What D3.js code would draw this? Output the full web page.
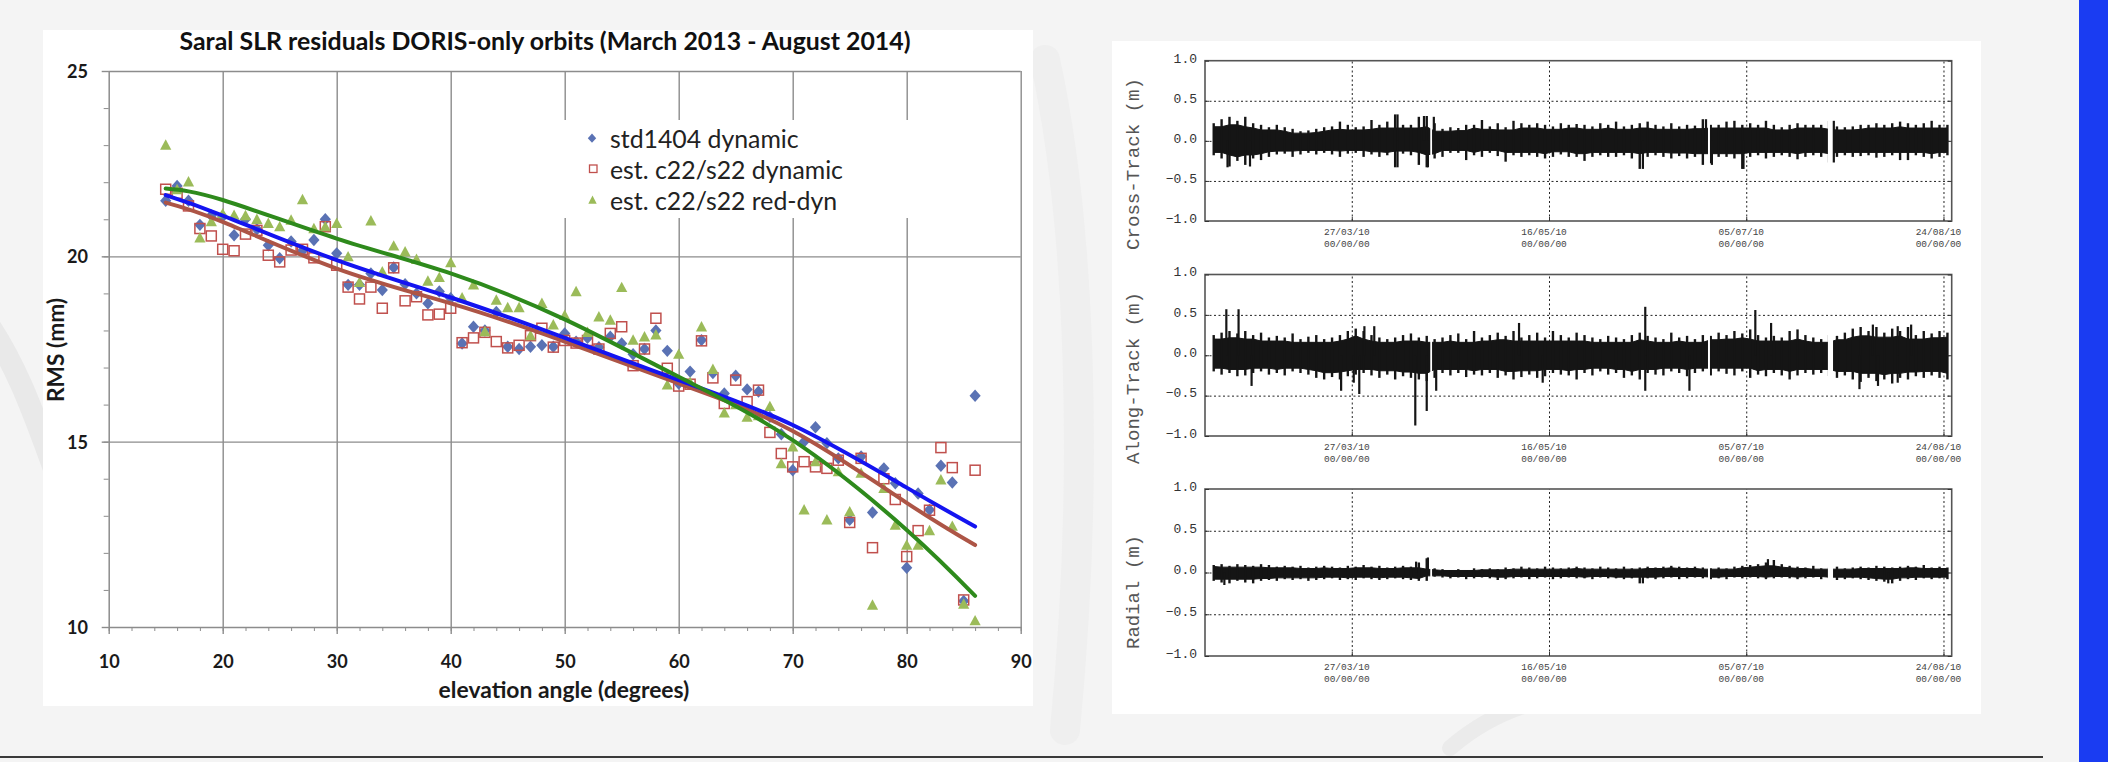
<!DOCTYPE html>
<html>
<head>
<meta charset="utf-8">
<script src="https://cdn.jsdelivr.net/npm/d3@7"></script>
<style>
  html, body { margin: 0; padding: 0; background: #f4f4f4; }
  svg { display: block; }
</style>
</head>
<body>
<svg id="slide" width="2108" height="762"></svg>
<script>
// ===================== DATA: SLR residuals vs elevation =====================

const elevation = [15, 16, 17, 18, 19, 20, 21, 22, 23, 24, 25, 26, 27, 28, 29, 30, 31, 32, 33, 34,
  35, 36, 37, 38, 39, 40, 41, 42, 43, 44, 45, 46, 47, 48, 49, 50, 51, 52, 53, 54,
  55, 56, 57, 58, 59, 60, 61, 62, 63, 64, 65, 66, 67, 68, 69, 70, 71, 72, 73, 74,
  75, 76, 77, 78, 79, 80, 81, 82, 83, 84, 85, 86];

const rmsStd1404 = [21.5, 21.9, 21.5, 20.85, 21.1, 21.07, 20.57, 21.0, 20.73, 20.3, 19.95, 20.4, 20.15, 20.44, 21.0, 20.08, 19.23, 19.23, 19.54, 19.09,
  19.7, 19.25, 19.0, 18.73, 19.05, 18.87, 17.65, 18.1, 18.0, 18.5, 17.56, 17.5, 17.56, 17.6, 17.56, 17.92, 17.7, 17.8, 17.55, 17.83,
  17.65, 17.36, 17.5, 18.0, 17.45, 16.57, 16.89, 17.74, 16.85, 16.3, 16.78, 16.41, 16.35, 15.67, 15.2, 14.23, 15.0, 15.39, 14.96, 14.55,
  12.89, 14.6, 13.09, 14.28, 13.88, 11.6, 13.6, 13.16, 14.35, 13.9, 10.7, 16.24];

const rmsEstDyn = [21.81, 21.7, 21.36, 20.75, 20.55, 20.19, 20.15, 20.6, 20.7, 20.03, 19.85, 20.17, 20.19, 19.96, 20.8, 19.76, 19.17, 18.85, 19.17, 18.6,
  19.69, 18.8, 18.91, 18.42, 18.44, 18.6, 17.67, 17.8, 17.95, 17.7, 17.53, 17.6, 17.86, 18.06, 17.55, 17.73, 17.66, 17.73, 17.5, 17.92,
  18.1, 17.05, 17.5, 18.33, 16.98, 16.5, 16.55, 17.72, 16.72, 16.03, 16.66, 16.08, 16.39, 15.25, 14.68, 14.32, 14.46, 14.32, 14.28, 14.5,
  12.82, 14.55, 12.14, 14.0, 13.44, 11.9, 12.6, 13.15, 14.84, 14.3, 10.73, 14.23];

const rmsEstRedDyn = [23.0, 21.8, 22.01, 20.5, 20.94, 21.15, 21.11, 21.1, 21.0, 20.89, 20.8, 20.98, 21.53, 20.75, 20.8, 20.89, 19.99, 19.3, 20.96, 19.58,
  20.28, 20.12, 19.92, 19.33, 19.43, 19.83, 18.88, 19.23, 17.97, 18.82, 18.62, 18.62, 17.86, 18.73, 18.15, 18.41, 19.05, 17.95, 18.37, 18.28,
  19.16, 17.74, 17.83, 17.88, 16.53, 17.36, 16.6, 18.1, 16.95, 15.78, 16.0, 15.66, 15.7, 15.95, 14.41, 14.86, 13.16, 14.46, 12.89, 14.19,
  13.11, 14.15, 10.59, 13.74, 12.75, 12.21, 12.21, 12.6, 13.97, 12.72, 10.62, 10.17];

// trend lines at a few elevations
const trendElev = [15, 20, 30, 40, 50, 60, 70, 80, 86];
const trendStd1404 = [21.65, 21.1, 19.9, 18.89, 17.8, 16.66, 15.45, 13.76, 12.71];
const trendEstDyn = [21.45, 20.93, 19.67, 18.73, 17.7, 16.57, 15.29, 13.35, 12.21];
const trendEstRedDyn = [21.83, 21.52, 20.48, 19.54, 18.3, 16.75, 15.04, 12.62, 10.84];

const seriesNames = ['std1404 dynamic', 'est. c22/s22 dynamic', 'est. c22/s22 red-dyn'];
const xTicks = [10, 20, 30, 40, 50, 60, 70, 80, 90];
const yTicks = [10, 15, 20, 25];

// ===================== DATA: orbit differences (2-day bins) =====================

const panelTitles = ['Cross-Track (m)', 'Along-Track (m)', 'Radial (m)'];
const residTicks = [-1, -0.5, 0, 0.5, 1];
const dateTicks = ['2010-03-27', '2010-05-16', '2010-07-05', '2010-08-24'];
const timeLabel = '00/00/00';
const binStart = '2010-02-20';
const binDays = 2;

const crossHi = [.22, .27, .30, .25, .30, .22, .20, .17, .20, .17, .15, .12, .13, .15, .17, .18, .24, .20, .17, .18,
  .26, .20, .24, .33, .20, .20, .30, .31, .22, .15, .17, .16, .20, .20, .26, .18, .22, .17, .25, .22,
  .20, .22, .20, .18, .22, .20, .21, .20, .18, .22, .20, .24, .18, .20, .22, .24, .20, .18, .22, .18,
  .20, .19, .27, .20, .20, .24, .25, .20, .22, .20, .25, .20, .17, .20, .22, .20, .20, .20, .25, .18,
  .17, .18, .20, .20, .22, .20, .22, .24, .22, .20, .22, .25, .20, .20];
const crossLo = [-.18, -.22, -.32, -.25, -.30, -.22, -.24, -.20, -.17, -.16, -.20, -.17, -.15, -.17, -.15, -.17, -.20, -.16, -.15, -.20,
  -.17, -.20, -.18, -.33, -.16, -.18, -.30, -.33, -.22, -.20, -.15, -.15, -.24, -.18, -.20, -.15, -.19, -.26, -.18, -.20,
  -.18, -.20, -.22, -.20, -.17, -.20, -.20, -.25, -.20, -.18, -.20, -.20, -.18, -.22, -.35, -.20, -.18, -.20, -.22, -.19,
  -.22, -.20, -.30, -.28, -.20, -.20, -.22, -.35, -.20, -.18, -.22, -.20, -.18, -.20, -.23, -.20, -.18, -.20, -.27, -.20,
  -.18, -.20, -.19, -.18, -.21, -.20, -.18, -.24, -.24, -.18, -.20, -.22, -.20, -.18];

const alongHi = [.25, .28, .30, .27, .30, .25, .28, .22, .24, .22, .27, .20, .23, .25, .20, .22, .25, .30, .33, .30,
  .25, .22, .20, .22, .25, .27, .22, .24, .20, .22, .25, .27, .20, .30, .22, .25, .28, .24, .30, .22,
  .25, .28, .22, .30, .25, .22, .28, .25, .22, .20, .24, .22, .20, .25, .28, .24, .22, .20, .28, .22,
  .24, .20, .25, .24, .28, .25, .30, .27, .32, .25, .22, .24, .22, .30, .32, .25, .22, .20, .25, .24,
  .28, .33, .35, .30, .35, .28, .33, .30, .35, .25, .30, .27, .30, .28];
const alongLo = [-.20, -.24, -.22, -.26, -.25, -.22, -.20, -.24, -.22, -.25, -.20, -.22, -.24, -.28, -.30, -.27, -.30, -.26, -.24, -.22,
  -.25, -.28, -.24, -.30, -.26, -.28, -.30, -.32, -.28, -.22, -.25, -.22, -.27, -.24, -.25, -.22, -.28, -.25, -.30, -.27,
  -.24, -.28, -.26, -.22, -.24, -.25, -.30, -.22, -.25, -.20, -.24, -.22, -.28, -.25, -.30, -.22, -.24, -.25, -.20, -.22,
  -.26, -.22, -.20, -.25, -.20, -.23, -.25, -.20, -.28, -.24, -.26, -.22, -.25, -.30, -.25, -.22, -.24, -.22, -.26, -.28,
  -.25, -.30, -.33, -.28, -.32, -.30, -.35, -.28, -.30, -.26, -.28, -.25, -.28, -.30];

const radialHi = [.09, .10, .08, .10, .09, .08, .10, .09, .07, .08, .07, .08, .06, .07, .08, .07, .06, .08, .07, .09,
  .07, .08, .06, .07, .08, .07, .12, .17, .05, .04, .03, .04, .03, .05, .04, .05, .04, .06, .05, .07,
  .06, .05, .07, .06, .05, .06, .07, .06, .05, .07, .06, .05, .07, .05, .06, .07, .06, .07, .08, .07,
  .06, .07, .06, .05, .06, .05, .07, .08, .09, .10, .12, .15, .10, .08, .07, .06, .08, .05, .06, .07,
  .05, .06, .07, .06, .08, .07, .06, .07, .08, .07, .09, .06, .07, .06];
const radialLo = [-.10, -.12, -.13, -.10, -.12, -.13, -.10, -.09, -.10, -.08, -.09, -.08, -.10, -.09, -.08, -.07, -.09, -.08, -.09, -.07,
  -.08, -.09, -.08, -.07, -.08, -.09, -.10, -.10, -.05, -.06, -.07, -.06, -.08, -.07, -.06, -.07, -.09, -.08, -.07, -.06,
  -.08, -.07, -.06, -.08, -.07, -.06, -.07, -.07, -.08, -.06, -.07, -.07, -.08, -.07, -.13, -.07, -.08, -.07, -.06, -.08,
  -.07, -.06, -.07, -.08, -.07, -.08, -.06, -.07, -.06, -.07, -.08, -.07, -.06, -.07, -.08, -.07, -.06, -.08, -.07, -.09,
  -.08, -.07, -.08, -.09, -.10, -.11, -.13, -.10, -.08, -.09, -.07, -.08, -.07, -.08];

// isolated outliers: [days after binStart, metres]
const crossSpikes = [[3.5, -.33], [9.2, -.32], [46.6, .33], [46.6, -.33], [53.3, .31], [54.3, -.33], [55.8, .30],
  [108.8, -.35], [124.8, .27], [126.3, -.30], [134.3, -.35], [157.2, .25], [157.2, -.27]];
const alongSpikes = [[3.2, .57], [6.3, .57], [9.6, -.38], [32.3, -.44], [35.5, -.34], [36.9, -.48], [38.2, .36], [40.7, .36],
  [51.1, -.87], [54.0, -.69], [56.4, -.44], [77.4, .40], [83.4, -.34], [109.4, .60], [109.4, -.44], [120.6, -.44],
  [137.3, .56], [141.3, .40], [163.7, -.42], [167.1, .38], [168.4, -.38], [173.4, -.34], [173.4, .36], [176.8, .38]];
const radialSpikes = [[2.7, -.15], [51.3, .13], [54.3, .18], [108.8, -.13], [140.5, .16], [171, -.13]];
// data gaps [from, to] in days after binStart
const dataGaps = [[54.9, 55.35], [125.3, 125.8], [155.7, 157.0]];

// ===================== HELPERS =====================

const svg = d3.select('#slide');
const W = 2108, H = 762;
const sansFont = 'Lato, "Open Sans", sans-serif';
const monoFont = '"Liberation Mono", "DejaVu Sans Mono", monospace';

// scale the font so the text takes the wanted width
function fitWidth(sel, width) {
  const w = sel.node().getComputedTextLength();
  const fs = parseFloat(sel.attr('font-size'));
  const nfs = fs * width / w;
  sel.attr('font-size', nfs.toFixed(2));
  return nfs;
}

// ===================== BACKGROUND =====================

function drawBackground() {
  svg.append('rect').attr('width', W).attr('height', H).attr('fill', '#f4f4f4');
  const deco = svg.append('g').attr('fill', 'none').attr('stroke-linecap', 'round');
  deco.append('path').attr('d', 'M -30 300 C 40 380, 60 520, 140 690')
    .attr('stroke', '#e9e9e9').attr('stroke-width', 22);
  deco.append('path').attr('d', 'M 1045 60 C 1080 220, 1090 470, 1065 730')
    .attr('stroke', '#efefef').attr('stroke-width', 30);
  deco.append('path').attr('d', 'M 1450 748 C 1500 705, 1560 688, 1640 696')
    .attr('stroke', '#ebebeb').attr('stroke-width', 16);

  svg.append('line').attr('x1', 0).attr('x2', 2043).attr('y1', 757).attr('y2', 757)
    .attr('stroke', '#3a3a3a').attr('stroke-width', 2);
  svg.append('rect').attr('x', 2079).attr('y', 0).attr('width', 29).attr('height', H).attr('fill', '#1a3cf2');
}

// ===================== LEFT CHART =====================

function drawElevationChart() {
  svg.append('rect').attr('x', 43).attr('y', 30).attr('width', 990).attr('height', 676).attr('fill', '#fff');

  const x = d3.scaleLinear().domain(d3.extent(xTicks)).range([108.7, 1020.7]);
  const y = d3.scaleLinear().domain(d3.extent(yTicks)).range([627, 71]);
  const g = svg.append('g');
  const gridColor = '#8c8c8c';

  // grid
  g.append('g').attr('transform', `translate(0,${y(10)})`)
    .call(d3.axisBottom(x).tickValues(xTicks.slice(1)).tickSize(y(25) - y(10)).tickFormat(''))
    .call(a => a.select('.domain').remove())
    .selectAll('line').attr('stroke', gridColor).attr('stroke-width', 1.4);
  g.append('g').attr('transform', `translate(${x(10)},0)`)
    .call(d3.axisLeft(y).tickValues(yTicks.slice(1)).tickSize(x(10) - x(90)).tickFormat(''))
    .call(a => a.select('.domain').remove())
    .selectAll('line').attr('stroke', gridColor).attr('stroke-width', 1.4);

  // minor ticks
  g.append('g').attr('transform', `translate(0,${y(10)})`)
    .call(d3.axisBottom(x).tickValues(d3.range(10, 91, 2)).tickSize(4).tickFormat(''))
    .call(a => a.select('.domain').remove())
    .selectAll('line').attr('stroke', gridColor);
  g.append('g').attr('transform', `translate(${x(10)},0)`)
    .call(d3.axisLeft(y).tickValues(d3.range(10, 26, 1)).tickSize(5).tickFormat(''))
    .call(a => a.select('.domain').remove())
    .selectAll('line').attr('stroke', gridColor);

  // main axes
  const xAxis = g.append('g').attr('transform', `translate(0,${y(10)})`)
    .call(d3.axisBottom(x).tickValues(xTicks).tickSize(7).tickSizeOuter(0));
  const yAxis = g.append('g').attr('transform', `translate(${x(10)},0)`)
    .call(d3.axisLeft(y).tickValues(yTicks).tickSize(7).tickSizeOuter(0));
  for (const a of [xAxis, yAxis]) {
    a.select('.domain').attr('stroke', gridColor).attr('stroke-width', 1.5);
    a.selectAll('line').attr('stroke', gridColor).attr('stroke-width', 1.4);
    a.selectAll('text').attr('font-family', sansFont).attr('font-weight', 'bold')
      .attr('font-size', 18).attr('fill', '#1a1a1a');
  }
  const probe = xAxis.selectAll('text').filter(d => d === 20);
  const tickFs = fitWidth(probe, 21);
  xAxis.selectAll('text').attr('font-size', tickFs).attr('dy', null).attr('y', 41);
  yAxis.selectAll('text').attr('font-size', tickFs).attr('dy', '0.36em').attr('x', -20.7);

  // titles
  const title = svg.append('text').attr('x', 545).attr('y', 50).attr('text-anchor', 'middle')
    .attr('font-family', sansFont).attr('font-weight', 'bold').attr('font-size', 22).attr('fill', '#111')
    .text('Saral SLR residuals DORIS-only orbits (March 2013 - August 2014)');
  fitWidth(title, 731);
  const xTitle = svg.append('text').attr('x', 564).attr('y', 698).attr('text-anchor', 'middle')
    .attr('font-family', sansFont).attr('font-weight', 'bold').attr('font-size', 20).attr('fill', '#1a1a1a')
    .text('elevation angle (degrees)');
  fitWidth(xTitle, 251);
  const yTitle = svg.append('text').attr('x', 0).attr('y', 0)
    .attr('transform', 'translate(55,350) rotate(-90)')
    .attr('text-anchor', 'middle').attr('dominant-baseline', 'central')
    .attr('font-family', sansFont).attr('font-weight', 'bold').attr('font-size', 20).attr('fill', '#1a1a1a')
    .text('RMS (mm)');
  fitWidth(yTitle, 104);

  // legend box (hides the grid behind it)
  svg.append('rect').attr('x', 548).attr('y', 120).attr('width', 415).attr('height', 98).attr('fill', '#fff');

  // markers
  const diamond = (w, h) => `M0,${-h}L${w},0L0,${h}L${-w},0Z`;
  const triangle = (w, h) => `M0,${-h}L${w},${h * 0.8}L${-w},${h * 0.8}Z`;

  const pts = svg.append('g');
  pts.selectAll('path.std').data(elevation).join('path').attr('class', 'std')
    .attr('d', diamond(5.6, 6.2)).attr('fill', '#5a72b4')
    .attr('transform', (e, i) => `translate(${x(e)},${y(rmsStd1404[i])})`);
  pts.selectAll('rect.est').data(elevation).join('rect').attr('class', 'est')
    .attr('x', e => x(e) - 5).attr('y', (e, i) => y(rmsEstDyn[i]) - 5)
    .attr('width', 10).attr('height', 10)
    .attr('fill', 'none').attr('stroke', '#c0504d').attr('stroke-width', 1.5);
  pts.selectAll('path.red').data(elevation).join('path').attr('class', 'red')
    .attr('d', triangle(5.6, 5.8)).attr('fill', '#9bbb59')
    .attr('transform', (e, i) => `translate(${x(e)},${y(rmsEstRedDyn[i])})`);

  // trend lines
  const trend = vals => d3.line().curve(d3.curveNatural)
    .x(e => x(e)).y((e, i) => y(vals[i]))(trendElev);
  const lines = svg.append('g').attr('fill', 'none').attr('stroke-width', 4).attr('stroke-linecap', 'round');
  lines.append('path').attr('d', trend(trendEstDyn)).attr('stroke', '#ad5546');
  lines.append('path').attr('d', trend(trendStd1404)).attr('stroke', '#1414f0');
  lines.append('path').attr('d', trend(trendEstRedDyn)).attr('stroke', '#2e8a1c');

  // legend
  const leg = svg.append('g');
  const rowY = [147.7, 179, 210];
  leg.append('path').attr('d', diamond(4.2, 4.6)).attr('fill', '#5a72b4')
    .attr('transform', `translate(592,${rowY[0] - 9.5})`);
  leg.append('rect').attr('x', 589.5).attr('y', rowY[1] - 14).attr('width', 7.5).attr('height', 7.5)
    .attr('fill', 'none').attr('stroke', '#c0504d').attr('stroke-width', 1.3);
  leg.append('path').attr('d', triangle(4.2, 4.6)).attr('fill', '#9bbb59')
    .attr('transform', `translate(592.5,${rowY[2] - 10})`);
  const labels = leg.selectAll('text').data(seriesNames).join('text')
    .attr('x', 610).attr('y', (d, i) => rowY[i])
    .attr('font-family', sansFont).attr('font-size', 21).attr('fill', '#222')
    .text(d => d);
  const legFs = fitWidth(labels.filter((d, i) => i === 1), 233);
  labels.attr('font-size', legFs);
}

// ===================== RIGHT CHART =====================

function drawOrbitPanels() {
  svg.append('rect').attr('x', 1112).attr('y', 41).attr('width', 869).attr('height', 673).attr('fill', '#fff');

  const t = d3.scaleUtc()
    .domain([new Date(Date.UTC(2010, 1, 17, 19)), new Date(Date.UTC(2010, 7, 26, 2))])
    .range([1205, 1951.7]);
  const start = new Date(binStart + 'T00:00:00Z');
  const dayAt = d => new Date(start.getTime() + d * 864e5);
  const ticks = dateTicks.map(s => new Date(s + 'T00:00:00Z'));
  const fmt = d3.utcFormat('%d/%m/%y');
  const ink = '#151515';

  const panels = [
    { hi: crossHi, lo: crossLo, spikes: crossSpikes, top: 60.7, bottom: 221, titleY: 164 },
    { hi: alongHi, lo: alongLo, spikes: alongSpikes, top: 274.5, bottom: 436, titleY: 378 },
    { hi: radialHi, lo: radialLo, spikes: radialSpikes, top: 489, bottom: 656, titleY: 592 }
  ];

  panels.forEach((p, k) => {
    const yp = d3.scaleLinear().domain(d3.extent(residTicks)).range([p.bottom, p.top]);
    const g = svg.append('g');
    const left = t.range()[0], right = t.range()[1];

    // dotted grid
    g.append('g').attr('transform', `translate(${left},0)`)
      .call(d3.axisLeft(yp).tickValues([-0.5, 0, 0.5]).tickSize(left - right).tickFormat(''))
      .call(a => a.select('.domain').remove())
      .selectAll('line').attr('stroke', '#222').attr('stroke-dasharray', '2,2.5');
    g.append('g').attr('transform', `translate(0,${p.bottom})`)
      .call(d3.axisBottom(t).tickValues(ticks).tickSize(p.top - p.bottom).tickFormat(''))
      .call(a => a.select('.domain').remove())
      .selectAll('line').attr('stroke', '#222').attr('stroke-dasharray', '2,2.5');

    // residual band: dense core plus the per-bin extremes as thin strokes
    const pts = p.hi.map((h, i) => ({
      t: dayAt(i * binDays), hi: h, lo: p.lo[i],
      coreHi: 0.8 * d3.min(p.hi.slice(Math.max(0, i - 1), i + 2)),
      coreLo: 0.8 * d3.max(p.lo.slice(Math.max(0, i - 1), i + 2))
    }));
    g.append('path').datum(pts)
      .attr('d', d3.area().x(d => t(d.t)).y0(d => yp(d.coreLo)).y1(d => yp(d.coreHi)))
      .attr('fill', ink).attr('stroke', ink).attr('stroke-width', 1);
    g.selectAll('line.bin').data(pts).join('line').attr('class', 'bin')
      .attr('x1', d => t(d.t)).attr('x2', d => t(d.t))
      .attr('y1', d => yp(d.lo)).attr('y2', d => yp(d.hi))
      .attr('stroke', ink).attr('stroke-width', 2.4);

    const bandTop = yp(d3.max(p.hi) + 0.02), bandBot = yp(d3.min(p.lo) - 0.02);
    g.selectAll('rect.gap').data(dataGaps).join('rect').attr('class', 'gap')
      .attr('x', d => t(dayAt(d[0]))).attr('width', d => Math.max(1, t(dayAt(d[1])) - t(dayAt(d[0]))))
      .attr('y', bandTop).attr('height', bandBot - bandTop).attr('fill', '#fff');

    g.selectAll('line.spike').data(p.spikes).join('line').attr('class', 'spike')
      .attr('x1', d => t(dayAt(d[0]))).attr('x2', d => t(dayAt(d[0])))
      .attr('y1', yp(0)).attr('y2', d => yp(d[1]))
      .attr('stroke', ink).attr('stroke-width', 2.2);

    // frame and ticks
    g.append('rect').attr('x', left).attr('y', p.top).attr('width', right - left).attr('height', p.bottom - p.top)
      .attr('fill', 'none').attr('stroke', '#555').attr('stroke-width', 1.6);
    const ya = g.append('g').attr('transform', `translate(${left},0)`)
      .call(d3.axisLeft(yp).tickValues(residTicks).tickSizeInner(-4).tickSizeOuter(0).tickPadding(8)
        .tickFormat(d3.format('.1f')));
    ya.select('.domain').remove();
    ya.selectAll('line').attr('stroke', '#333');
    ya.selectAll('text').attr('font-family', monoFont).attr('font-size', 13).attr('fill', '#333')
      .attr('dy', '0.1em');
    g.append('g').attr('transform', `translate(${right},0)`)
      .call(d3.axisRight(yp).tickValues(residTicks).tickSizeInner(-4).tickSizeOuter(0).tickFormat(''))
      .call(a => a.select('.domain').remove())
      .selectAll('line').attr('stroke', '#333');
    g.append('g').attr('transform', `translate(0,${p.bottom})`)
      .call(d3.axisBottom(t).tickValues(ticks).tickSizeInner(-4).tickSizeOuter(0).tickFormat(''))
      .call(a => a.select('.domain').remove())
      .selectAll('line').attr('stroke', '#333');

    // date labels
    const dl = g.selectAll('text.date').data(ticks).join('text').attr('class', 'date')
      .attr('text-anchor', 'middle').attr('font-family', monoFont).attr('font-size', 9.5).attr('fill', '#444');
    dl.append('tspan').attr('x', d => t(d) - 5).attr('y', p.bottom + 14).text(d => fmt(d));
    dl.append('tspan').attr('x', d => t(d) - 5).attr('y', p.bottom + 25.6).text(timeLabel);

    // panel title
    const title = g.append('text').attr('transform', `translate(1134,${p.titleY}) rotate(-90)`)
      .attr('text-anchor', 'middle').attr('dominant-baseline', 'central')
      .attr('font-family', monoFont).attr('font-size', 18).attr('fill', '#555')
      .text(panelTitles[k]);
    fitWidth(title, k === 2 ? 114 : 172);
  });
}

function drawAll() {
  svg.selectAll('*').remove();
  drawBackground();
  drawElevationChart();
  drawOrbitPanels();
}

drawAll();
// measure again once the fonts are really in use
if (document.fonts && document.fonts.ready) document.fonts.ready.then(drawAll);
</script>
</body>
</html>
